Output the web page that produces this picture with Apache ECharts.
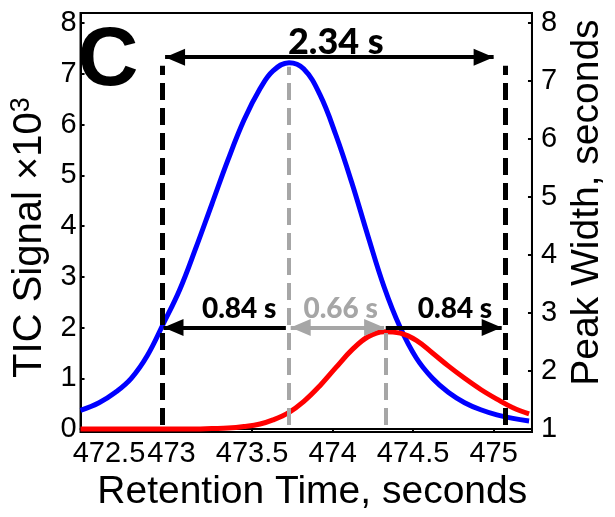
<!DOCTYPE html>
<html>
<head>
<meta charset="utf-8">
<script src="https://cdn.jsdelivr.net/npm/echarts@6/dist/echarts.min.js"></script>
<style>
  html, body { margin: 0; padding: 0; background: #fff; }
  #chart { width: 615px; height: 517px; }
</style>
</head>
<body>
<div id="chart"></div>
<script>
// Retention time samples (seconds) shared by both traces
const retentionTime = [472.435, 472.55, 472.65, 472.75, 472.85, 472.95, 473.05, 473.15, 473.25, 473.35,
  473.45, 473.55, 473.63, 473.73, 473.82, 473.92, 474.02, 474.12, 474.22, 474.32,
  474.42, 474.52, 474.62, 474.72, 474.82, 474.92, 475.02, 475.12, 475.22];
// TIC signal (x10^3) of the early, large peak
const ticBlue = [0.37, 0.52, 0.72, 1.0, 1.45, 2.08, 2.74, 3.56, 4.43, 5.3,
  6.09, 6.71, 7.06, 7.22, 7.1, 6.6, 5.8, 4.85, 3.8, 2.8,
  2.0, 1.4, 1.0, 0.72, 0.52, 0.38, 0.28, 0.21, 0.16];
// TIC signal (x10^3) of the late, small peak
const ticRed = [0, 0, 0, 0, 0, 0, 0, 0, 0.01, 0.02,
  0.05, 0.1, 0.18, 0.33, 0.54, 0.85, 1.21, 1.56, 1.82, 1.92,
  1.89, 1.75, 1.5, 1.24, 1.0, 0.78, 0.59, 0.42, 0.3];

// Axis ticks
const timeTicks = [472.5, 473, 473.5, 474, 474.5, 475];
const signalTicks = [0, 1, 2, 3, 4, 5, 6, 7, 8];
const widthTicks = [1, 2, 3, 4, 5, 6, 7, 8];

// Peak-width annotation (data units of time / signal axis)
const boundaryTimes = [472.94, 475.07];      // black dashed boundaries
const boundaryRange = [0.08, 7.16];
const apexTimes = [473.73, 474.33];          // grey dashed apex markers
const apexSignals = [7.14, 1.9];
const spanArrowY = 7.33;
const spanArrow = [472.96, 475.0];
const segmentArrowY = 2.0;
const segmentArrows = [[472.95, 473.71], [473.74, 474.32], [474.33, 475.05]];
const widthLabels = ['2.34 s', '0.84 s', '0.66 s', '0.84 s'];
const widthLabelAt = [[474.02, 7.62], [473.42, 2.37], [474.05, 2.37], [474.76, 2.37]];

const FONT = 'Liberation Sans, Arial, sans-serif';
const ANN_FONT = 'Lato, Open Sans, sans-serif';
const BLACK = '#000000';
const GREY = '#a6a6a6';

const zip = (xs, ys) => xs.map((x, i) => [x, ys[i]]);

const dashed = (x, y0, y1, color, width) => [
  { coord: [x, y0], symbol: 'none', lineStyle: { color, width, type: [17, 8] } },
  { coord: [x, y1], symbol: 'none' }
];
const arrow = (x0, x1, y, color, startHead, endHead) => [
  { coord: [x0, y], symbol: startHead ? 'triangle' : 'none', lineStyle: { color, width: 4, type: 'solid' } },
  { coord: [x1, y], symbol: endHead ? 'triangle' : 'none' }
];

const markLines = [
  dashed(boundaryTimes[0], boundaryRange[0], boundaryRange[1], BLACK, 5),
  dashed(boundaryTimes[1], boundaryRange[0], boundaryRange[1], BLACK, 5),
  dashed(apexTimes[0], boundaryRange[0], apexSignals[0], GREY, 4),
  dashed(apexTimes[1], boundaryRange[0], apexSignals[1], GREY, 4),
  arrow(spanArrow[0], spanArrow[1], spanArrowY, BLACK, true, true),
  arrow(segmentArrows[0][0], segmentArrows[0][1], segmentArrowY, BLACK, true, false),
  arrow(segmentArrows[1][0], segmentArrows[1][1], segmentArrowY, GREY, true, true),
  arrow(segmentArrows[2][0], segmentArrows[2][1], segmentArrowY, BLACK, false, true)
];

const labelData = widthLabels.map((t, i) => ({
  value: widthLabelAt[i],
  name: t,
  label: {
    show: true,
    position: 'inside',
    formatter: t,
    fontFamily: ANN_FONT,
    fontWeight: 900,
    fontSize: i === 0 ? 36 : 28,
    color: i === 2 ? GREY : BLACK
  }
}));

const chart = echarts.init(document.getElementById('chart'), null, { renderer: 'canvas' });

chart.setOption({
  animation: false,
  backgroundColor: '#ffffff',
  grid: {
    left: 72, right: 72, top: 13, bottom: 83,
    show: true, borderColor: BLACK, borderWidth: 2, backgroundColor: 'transparent'
  },
  graphic: [{
    type: 'text', x: 108, y: 62,
    style: { text: 'C', font: 'bold 84px ' + FONT, fill: BLACK, align: 'center', verticalAlign: 'middle' }
  }],
  xAxis: {
    type: 'value', min: 472.435, max: 475.238,
    name: 'Retention Time, seconds', nameLocation: 'middle', nameGap: 39,
    nameTextStyle: { fontFamily: FONT, fontSize: 39, color: BLACK, padding: [0, 0, 0, 12] },
    axisLine: { show: true, lineStyle: { color: BLACK, width: 2 } },
    axisTick: { show: true, inside: false, length: 4, lineStyle: { color: BLACK, width: 2 }, customValues: timeTicks },
    axisLabel: {
      fontFamily: FONT, fontSize: 29, color: BLACK, margin: 7,
      customValues: timeTicks,
      formatter: v => (v === timeTicks[0] ? '{first|' + v + '}' : String(v)),
      rich: { first: { padding: [0, 0, 0, 36] } }
    },
    splitLine: { show: false }
  },
  yAxis: [{
    type: 'value', min: -0.06, max: 8.2, position: 'left',
    name: 'TIC Signal \u00d710{sup|3}', nameLocation: 'middle', nameRotate: 90, nameGap: 20,
    nameTextStyle: {
      fontFamily: FONT, fontSize: 40, color: BLACK, padding: [0, 30, 0, 0],
      rich: { sup: { fontFamily: FONT, fontSize: 27, verticalAlign: 'top', padding: [0, 0, 16, 0] } }
    },
    axisLine: { show: true, lineStyle: { color: BLACK, width: 2 } },
    axisTick: { show: true, inside: true, length: 4, lineStyle: { color: BLACK, width: 2 }, customValues: signalTicks },
    axisLabel: { fontFamily: FONT, fontSize: 29, color: BLACK, margin: 4, customValues: signalTicks },
    splitLine: { show: false }
  }, {
    type: 'value', min: 0.949, max: 8.172, position: 'right',
    name: 'Peak Width, seconds', nameLocation: 'middle', nameRotate: 90, nameGap: 32,
    nameTextStyle: { fontFamily: FONT, fontSize: 39, color: BLACK, padding: [0, 0, 0, 40] },
    axisLine: { show: true, lineStyle: { color: BLACK, width: 2 } },
    axisTick: { show: true, inside: true, length: 4, lineStyle: { color: BLACK, width: 2 }, customValues: widthTicks },
    axisLabel: { fontFamily: FONT, fontSize: 29, color: BLACK, margin: 9, customValues: widthTicks },
    splitLine: { show: false }
  }],
  series: [{
    name: 'Early peak', type: 'line', yAxisIndex: 0,
    data: zip(retentionTime, ticBlue),
    smooth: 0.4, showSymbol: false,
    lineStyle: { color: '#0000ff', width: 5 }
  }, {
    name: 'Late peak', type: 'line', yAxisIndex: 0,
    data: zip(retentionTime, ticRed),
    smooth: 0.4, showSymbol: false,
    lineStyle: { color: '#ff0000', width: 5 }
  }, {
    name: 'Peak widths', type: 'scatter', yAxisIndex: 0,
    symbolSize: 0, silent: true,
    itemStyle: { opacity: 1 },
    data: labelData,
    markLine: {
      silent: true, animation: false,
      symbolSize: [17, 20],
      symbolOffset: [[0, 10], [0, 10]],
      label: { show: false },
      data: markLines
    }
  }]
});
</script>
</body>
</html>
